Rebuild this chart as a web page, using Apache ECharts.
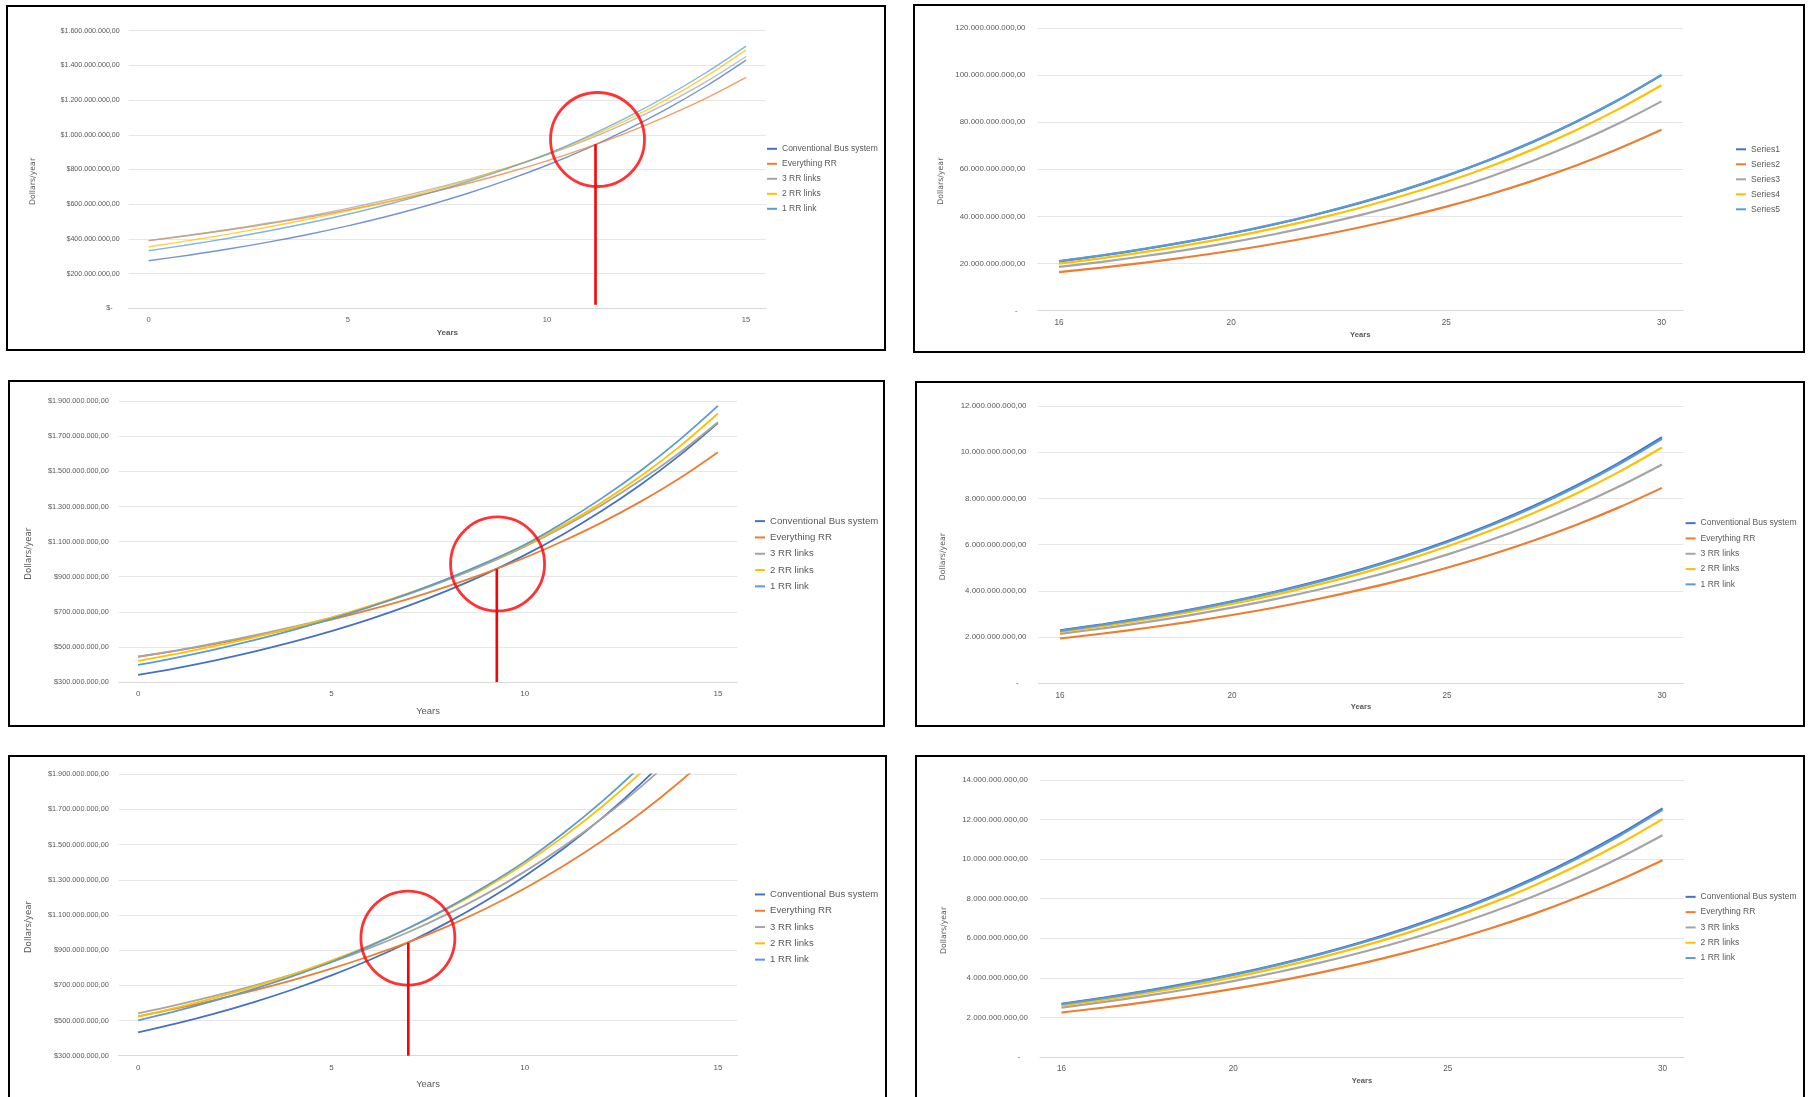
<!DOCTYPE html>
<html>
<head>
<meta charset="utf-8">
<script src="https://cdn.jsdelivr.net/npm/echarts@6/dist/echarts.min.js"></script>
<style>
  html, body { margin: 0; padding: 0; background: #ffffff; }
  #chart { width: 1809px; height: 1097px; }
</style>
</head>
<body>
<div id="chart"></div>
<script>
// ---- categories ----
const yearsEarly = ['0','1','2','3','4','5','6','7','8','9','10','11','12','13','14','15'];
const yearsLate = ['16','17','18','19','20','21','22','23','24','25','26','27','28','29','30'];
const scenarioNames = ['Conventional Bus system', 'Everything RR', '3 RR links', '2 RR links', '1 RR link'];
const genericNames = ['Series1', 'Series2', 'Series3', 'Series4', 'Series5'];

// ---- scenario A, years 0-15 (millions of dollars per year) ----
const a1Bus   = [274, 306, 341.5, 381.3, 425.7, 475.3, 530.7, 592.5, 661.5, 738.6, 824.6, 920.7, 1027.9, 1147.7, 1281.4, 1430.7];
const a1AllRR = [390, 419.5, 451.6, 486.6, 524.8, 566.5, 612.4, 663.2, 719.2, 781.1, 849.4, 926.3, 1011.5, 1106.6, 1211.7, 1331.1];
const a1RR3   = [390, 420.8, 454.5, 491.3, 531.6, 576.3, 625.8, 680.9, 741.5, 809.0, 884.2, 970.9, 1069.0, 1180.2, 1306.5, 1451.5];
const a1RR2   = [355, 389.8, 427.6, 468.7, 513.2, 561.4, 614.2, 672.5, 737.1, 808.6, 888.6, 980.1, 1084.0, 1202.2, 1336.8, 1489.2];
const a1RR1   = [332, 366.2, 403.9, 445.5, 491.4, 542.0, 598.4, 660.6, 729.3, 805.1, 888.8, 988.3, 1099.0, 1222.1, 1359.0, 1511.2];

// ---- scenario A, years 16-30 (billions) ----
const b1S1 = [20.9, 23.37, 26.14, 29.23, 32.69, 36.55, 40.88, 45.71, 51.12, 57.17, 63.93, 71.50, 79.96, 89.41, 99.99];
const b1S2 = [16.3, 18.21, 20.34, 22.72, 25.38, 28.34, 31.66, 35.36, 39.50, 44.12, 49.29, 55.05, 61.49, 68.69, 76.73];
const b1S3 = [18.5, 20.69, 23.15, 25.89, 28.97, 32.40, 36.24, 40.54, 45.35, 50.73, 56.74, 63.47, 71.00, 79.42, 88.84];
const b1S4 = [19.9, 22.26, 24.91, 27.86, 31.17, 34.87, 39.01, 43.64, 48.82, 54.61, 61.09, 68.34, 76.46, 85.53, 95.68];
const b1S5 = [21.0, 23.48, 26.25, 29.35, 32.81, 36.68, 41.01, 45.85, 51.26, 57.31, 64.07, 71.63, 80.08, 89.53, 100.09];

// ---- scenario B, years 0-15 (millions) ----
const a2Bus   = [340, 379.6, 423.8, 473.2, 528.3, 589.9, 658.6, 735.3, 820.9, 916.6, 1023.3, 1142.6, 1275.6, 1424.3, 1590.2, 1775.4];
const a2AllRR = [444, 479, 517, 559, 605, 655, 712, 774, 845, 922, 1008, 1104, 1210, 1328, 1460, 1610];
const a2RR3   = [444, 480.9, 521.2, 565.5, 614.2, 667.6, 730.4, 801.2, 881.3, 971.2, 1071.2, 1183.7, 1309.2, 1449.3, 1605.8, 1780.8];
const a2RR2   = [420, 460.7, 505.4, 554.4, 608.2, 667.2, 733.3, 806.6, 887.3, 976.9, 1076.5, 1192.7, 1323.9, 1472.2, 1640.0, 1830.2];
const a2RR1   = [397, 439.5, 486.5, 538.6, 596.2, 660.0, 728.6, 804.4, 888.1, 980.4, 1082.4, 1208.0, 1348.1, 1504.4, 1679.0, 1873.7];

// ---- scenario B, years 16-30 (billions) ----
const b2Bus   = [2.29, 2.556, 2.852, 3.183, 3.552, 3.964, 4.424, 4.937, 5.510, 6.149, 6.862, 7.658, 8.547, 9.538, 10.645];
const b2AllRR = [1.94, 2.155, 2.394, 2.660, 2.955, 3.282, 3.646, 4.051, 4.500, 4.999, 5.553, 6.169, 6.853, 7.613, 8.457];
const b2RR3   = [2.14, 2.380, 2.647, 2.943, 3.273, 3.640, 4.048, 4.502, 5.007, 5.568, 6.192, 6.887, 7.659, 8.517, 9.472];
const b2RR2   = [2.22, 2.476, 2.761, 3.078, 3.433, 3.828, 4.268, 4.759, 5.307, 5.918, 6.599, 7.359, 8.206, 9.150, 10.204];
const b2RR1   = [2.27, 2.534, 2.828, 3.157, 3.524, 3.933, 4.390, 4.900, 5.470, 6.105, 6.815, 7.607, 8.491, 9.477, 10.578];

// ---- scenario C, years 0-15 (millions) ----
const a3Bus   = [433, 484.1, 541.2, 605.1, 676.5, 756.3, 845.5, 945.3, 1056.8, 1181.5, 1320.9, 1476.8, 1651.0, 1845.8, 2063.6, 2307.1];
const a3AllRR = [524, 568.5, 617.4, 671.1, 730.2, 795.2, 866.8, 945.7, 1035.5, 1137.0, 1250.7, 1378.3, 1520.3, 1678.4, 1854.6, 2051.2];
const a3RR3   = [541, 588.6, 641.0, 698.7, 762.3, 832.4, 913.1, 1003.5, 1104.9, 1218.7, 1346.7, 1489.4, 1648.8, 1826.9, 2026.0, 2248.9];
const a3RR2   = [522, 573.2, 629.9, 692.9, 762.9, 840.7, 928.1, 1025.6, 1134.3, 1255.7, 1391.3, 1544.3, 1715.7, 1907.9, 2123.5, 2365.6];
const a3RR1   = [501, 554.6, 614.0, 679.7, 752.4, 832.9, 924.5, 1026.2, 1139.1, 1264.4, 1403.5, 1564.9, 1744.9, 1945.5, 2169.2, 2418.7];

// ---- scenario C, years 16-30 (billions) ----
const b3Bus   = [2.69, 3.003, 3.353, 3.743, 4.179, 4.665, 5.208, 5.814, 6.491, 7.247, 8.090, 9.032, 10.083, 11.257, 12.567];
const b3AllRR = [2.25, 2.502, 2.782, 3.094, 3.440, 3.826, 4.254, 4.731, 5.261, 5.850, 6.505, 7.233, 8.044, 8.945, 9.946];
const b3RR3   = [2.5, 2.783, 3.098, 3.448, 3.838, 4.272, 4.755, 5.293, 5.891, 6.558, 7.299, 8.125, 9.044, 10.067, 11.205];
const b3RR2   = [2.6, 2.901, 3.236, 3.610, 4.027, 4.493, 5.012, 5.592, 6.238, 6.959, 7.764, 8.661, 9.662, 10.779, 12.025];
const b3RR1   = [2.67, 2.981, 3.328, 3.716, 4.149, 4.632, 5.172, 5.775, 6.447, 7.199, 8.037, 8.973, 10.019, 11.186, 12.489];

// ---- break-even markers on the 0-15 charts (year, millions) ----
const breakEvenYear  = [11.22, 9.28, 6.99];
const breakEvenValue = [946, 946, 943];
const breakEvenFloor = [20, 300, 300];
const ringYear  = [11.27, 9.30, 6.98];
const ringValue = [973, 973, 969];

// ---- axis ranges ----
const yRanges = [
  [0, 1600, 200],
  [0, 120, 20],
  [300, 1900, 200],
  [0, 12, 2],
  [300, 1900, 200],
  [0, 14, 2]
];

// ---- chart definitions ----
const charts = [
  { cats: yearsEarly, names: scenarioNames, data: [a1Bus, a1AllRR, a1RR3, a1RR2, a1RR1], unit: 1e6, dollar: true, marker: 0 },
  { cats: yearsLate,  names: genericNames,  data: [b1S1, b1S2, b1S3, b1S4, b1S5],          unit: 1e9, dollar: false },
  { cats: yearsEarly, names: scenarioNames, data: [a2Bus, a2AllRR, a2RR3, a2RR2, a2RR1], unit: 1e6, dollar: true, marker: 1 },
  { cats: yearsLate,  names: scenarioNames, data: [b2Bus, b2AllRR, b2RR3, b2RR2, b2RR1], unit: 1e9, dollar: false },
  { cats: yearsEarly, names: scenarioNames, data: [a3Bus, a3AllRR, a3RR3, a3RR2, a3RR1], unit: 1e6, dollar: true, marker: 2 },
  { cats: yearsLate,  names: scenarioNames, data: [b3Bus, b3AllRR, b3RR3, b3RR2, b3RR1], unit: 1e9, dollar: false }
];

// ---- page layout and styling ----
const layout = [
  { box: [7, 6, 878, 344],   grid: [128.7, 30.7, 637.3, 277.6], legend: [762, 136.3, 15],   lw: 1.4, op: 0.75, yFont: 7.1, yMargin: 9,  xFont: 7.6, legFont: 8.5, yearsFont: 8,   yearsBold: true,  yearsGap: 20,   titleFont: 7.8, titleGap: 91.4 },
  { box: [914, 5, 890, 347], grid: [1037.5, 28, 645.5, 282.5],  legend: [1731, 136.8, 15],  lw: 2.2, op: 1,    yFont: 7.9, yMargin: 12, xFont: 8.2, legFont: 8.6, yearsFont: 7.6, yearsBold: true,  yearsGap: 20.5, titleFont: 7.8, titleGap: 93 },
  { box: [9, 381, 875, 345], grid: [118.8, 401.3, 618.4, 280.7], legend: [750, 508, 16.3],   lw: 1.8, op: 1,    yFont: 7.3, yMargin: 10, xFont: 8,   legFont: 9.6, yearsFont: 9.4, yearsBold: false, yearsGap: 24.5, titleFont: 8.6, titleGap: 85.5 },
  { box: [916, 382, 888, 344], grid: [1038.5, 406, 645, 277.3], legend: [1680.6, 510.5, 15.3], lw: 2.2, op: 1,  yFont: 7.9, yMargin: 12, xFont: 8.2, legFont: 8.5, yearsFont: 7.6, yearsBold: true,  yearsGap: 20,   titleFont: 7.8, titleGap: 92 },
  { box: [9, 756, 877, 360], grid: [118.8, 774.3, 618.4, 281.4], legend: [750, 881.3, 16.3], lw: 1.8, op: 1,    yFont: 7.3, yMargin: 10, xFont: 8,   legFont: 9.6, yearsFont: 9.4, yearsBold: false, yearsGap: 24.5, titleFont: 8.6, titleGap: 86 },
  { box: [916, 756, 888, 360], grid: [1040, 780, 644, 277],     legend: [1680.6, 884.2, 15.3], lw: 2.2, op: 1,  yFont: 7.9, yMargin: 12, xFont: 8.2, legFont: 8.5, yearsFont: 7.6, yearsBold: true,  yearsGap: 20,   titleFont: 7.8, titleGap: 92 }
];

const palette = ['#4472C4', '#ED7D31', '#A5A5A5', '#FFC000', '#5B9BD5'];
const FONT = "'Liberation Sans', Arial, sans-serif";
const TEXT = '#595959';

function moneyLabel(v, unit, dollar) {
  if (v === 0) return (dollar ? '$-' : '-') + '\u2002\u2002';
  const digits = Math.round(v * unit).toString().replace(/\B(?=(\d{3})+(?!\d))/g, '.');
  return (dollar ? '$' : '') + digits + ',00';
}

const grids = [], xAxes = [], yAxes = [], series = [], legends = [], graphics = [];

charts.forEach((c, i) => {
  const L = layout[i];
  const [gl, gt, gw, gh] = L.grid;
  grids.push({ left: gl, top: gt, width: gw, height: gh, containLabel: false });

  const catIndex = xAxes.length;
  xAxes.push({
    type: 'category', gridIndex: i, data: c.cats, boundaryGap: true,
    axisTick: { show: false },
    axisLine: { show: true, lineStyle: { color: '#D9D9D9', width: 1 } },
    axisLabel: {
      color: TEXT, fontFamily: FONT, fontSize: L.xFont, margin: 8,
      interval: (idx, val) => idx === 0 || Number(val) % 5 === 0
    },
    name: 'Years', nameLocation: 'middle', nameGap: L.yearsGap,
    nameTextStyle: { color: TEXT, fontFamily: FONT, fontSize: L.yearsFont, fontWeight: L.yearsBold ? 'bold' : 'normal' }
  });

  const [ymin, ymax, ystep] = yRanges[i];
  yAxes.push({
    type: 'value', gridIndex: i, min: ymin, max: ymax, interval: ystep,
    axisLine: { show: false }, axisTick: { show: false },
    splitLine: { show: true, lineStyle: { color: '#E6E6E6', width: 1 } },
    axisLabel: {
      color: TEXT, fontFamily: FONT, fontSize: L.yFont, margin: L.yMargin,
      formatter: v => moneyLabel(v, c.unit, c.dollar)
    },
    name: 'Dollars/year', nameLocation: 'middle', nameRotate: 90, nameGap: L.titleGap,
    nameTextStyle: { color: TEXT, fontFamily: "'DejaVu Sans', sans-serif", fontSize: L.titleFont, padding: [0, 24, 0, 0] }
  });

  c.data.forEach((vals, k) => {
    series.push({
      type: 'line', name: c.names[k], xAxisIndex: catIndex, yAxisIndex: i,
      data: vals, smooth: 0.35, symbol: 'none', showSymbol: false,
      lineStyle: { color: palette[k], width: L.lw, opacity: L.op },
      itemStyle: { color: palette[k] },
      emphasis: { disabled: true }, z: 2
    });
  });

  legends.push({
    orient: 'vertical', left: L.legend[0], top: L.legend[1], itemGap: 0,
    icon: 'rect', itemWidth: 10, itemHeight: 2,
    data: c.names.slice(),
    textStyle: { color: TEXT, fontFamily: FONT, fontSize: L.legFont, lineHeight: L.legend[2] },
    selectedMode: false
  });

  if (c.marker !== undefined) {
    const m = c.marker;
    const valIndex = xAxes.length;
    xAxes.push({ type: 'value', gridIndex: i, min: -0.5, max: 15.5, show: false });
    series.push({
      type: 'line', xAxisIndex: valIndex, yAxisIndex: i,
      data: [[breakEvenYear[m], breakEvenValue[m]], [breakEvenYear[m], breakEvenFloor[m]]],
      symbol: 'none', lineStyle: { color: '#FF0000', width: 2.6 }, silent: true, z: 5
    });
    series.push({
      type: 'scatter', xAxisIndex: valIndex, yAxisIndex: i,
      data: [[ringYear[m], ringValue[m]]],
      symbol: 'circle', symbolSize: 94,
      itemStyle: { color: 'rgba(0,0,0,0)', borderColor: '#FF0000', borderWidth: 2.8 },
      silent: true, z: 6
    });
  }

  const [bx, by, bw, bh] = L.box;
  graphics.push({
    type: 'rect', shape: { x: bx, y: by, width: bw, height: bh },
    style: { fill: 'none', stroke: '#000000', lineWidth: 2 }, silent: true, z: 100
  });
});

const chart = echarts.init(document.getElementById('chart'), null, { renderer: 'canvas' });
chart.setOption({
  backgroundColor: '#ffffff',
  animation: false,
  grid: grids,
  xAxis: xAxes,
  yAxis: yAxes,
  legend: legends,
  series: series,
  graphic: graphics
});
</script>
</body>
</html>
